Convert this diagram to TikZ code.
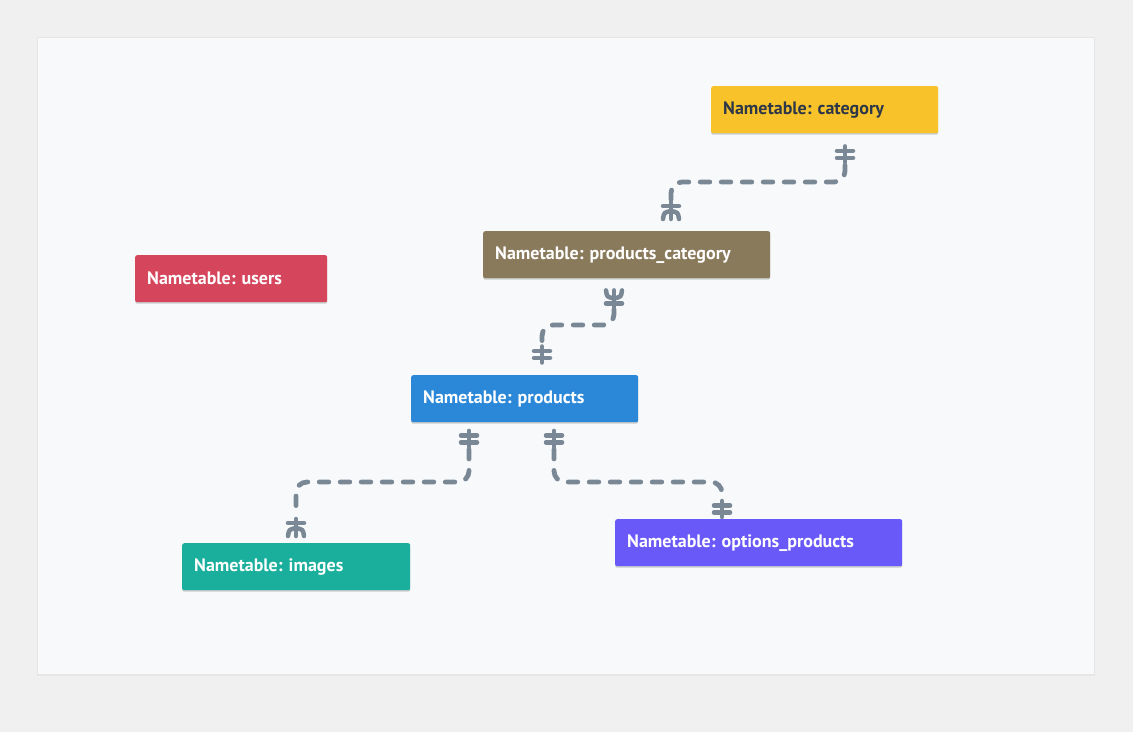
\documentclass[tikz,border=0pt]{standalone}
\usepackage{fontspec}
\setmainfont{PT Sans}
\usetikzlibrary{calc,shadows}
\definecolor{outerbg}{HTML}{F0F0F0}
\definecolor{panelbg}{HTML}{F7F9FB}
\definecolor{linec}{HTML}{7A8896}
\definecolor{ccat}{HTML}{F8C32A}
\definecolor{cpc}{HTML}{8A7A5C}
\definecolor{cusers}{HTML}{D5465D}
\definecolor{cprod}{HTML}{2B88D8}
\definecolor{cimg}{HTML}{1AAF9C}
\definecolor{copt}{HTML}{6959F8}
\definecolor{darktext}{HTML}{2D3748}
\tikzset{
  tbl/.style={rectangle, rounded corners=2pt, anchor=north west, minimum height=47pt,
    inner xsep=12pt, inner ysep=0pt, align=left, text=white,
    font=\fontsize{18}{21}\selectfont\bfseries\frenchspacing,
    drop shadow={shadow xshift=0pt, shadow yshift=-1.5pt, opacity=0.18, fill=black}},
  rel/.style={draw=linec, line width=4.8pt, line cap=round, dash pattern=on 9.5pt off 11.5pt, rounded corners=11pt},
  mk/.style={draw=linec, line width=4.5pt, line cap=round},
  twobar/.pic={
    \draw[mk] (0,-8) -- (0,8);
    \draw[mk] (-8,-3.5) -- (8,-3.5);
    \draw[mk] (-8,3.5) -- (8,3.5);
  },
  crow/.pic={
    \draw[mk] (0,-9) -- (0,8);
    \draw[mk] (-8,-5) -- (8,-5);
    \draw[mk] (0,0) .. controls (-7,1.5) .. (-8,8);
    \draw[mk] (0,0) .. controls (7,1.5) .. (8,8);
  }
}
\begin{document}
\begin{tikzpicture}[x=1pt,y=-1pt]
\useasboundingbox (0,0) rectangle (1133,732);
\fill[outerbg] (0,0) rectangle (1133,732);
\fill[black, opacity=0.04] (37,37) rectangle (1095,676);
\fill[panelbg] (38,38) rectangle (1094,674);

\node[tbl, fill=ccat, text=darktext, text width=203pt] (cat) at (711,86) {Nametable: category};
\node[tbl, fill=cpc, text width=263pt] (pc) at (483,231) {Nametable: products\_category};
\node[tbl, fill=cusers, text width=168pt] (users) at (135,255) {Nametable: users};
\node[tbl, fill=cprod, text width=203pt] (prod) at (411,375) {Nametable: products};
\node[tbl, fill=cimg, text width=204pt] (img) at (182,543) {Nametable: images};
\node[tbl, fill=copt, text width=263pt] (opt) at (615,519) {Nametable: options\_products};

% anchor points on the boxes
\coordinate (c1a) at ($(cat.south west)+(134,0)$);
\coordinate (c1b) at ($(pc.north west)+(188,0)$);
\coordinate (c2a) at ($(pc.south west)+(131,0)$);
\coordinate (c2b) at ($(prod.north west)+(131,0)$);
\coordinate (c3a) at ($(prod.south west)+(58,0)$);
\coordinate (c3b) at ($(img.north west)+(114,0)$);
\coordinate (c4a) at ($(prod.south west)+(143,0)$);
\coordinate (c4b) at ($(opt.north west)+(107,0)$);

% connectors
\path[rel] ($(c1a)+(0,32)$) |- ($(c1b)+(0,-49)$) -- ($(c1b)+(0,-31)$);
\path[rel] ($(c2a)+(0,31)$) |- ($(c2b)+(0,-50)$) -- ($(c2b)+(0,-29)$);
\path[rel] ($(c3a)+(0,27)$) |- ($(c3b)+(0,-61)$) -- ($(c3b)+(0,-26)$);
\path[rel] ($(c4a)+(0,27)$) |- ($(c4b)+(0,-37)$) -- ($(c4b)+(0,-19)$);

% markers
\pic at ($(c1a)+(0,21)$) {twobar};
\pic at ($(c1b)+(0,-20)$) {crow};
\pic[yscale=-1] at ($(c2a)+(0,20)$) {crow};
\pic at ($(c2b)+(0,-20.5)$) {twobar};
\pic at ($(c3a)+(0,16.5)$) {twobar};
\pic at ($(c4a)+(0,16.5)$) {twobar};
\pic at ($(c3b)+(0,-15)$) {crow};
\pic at ($(c4b)+(0,-10)$) {twobar};
\end{tikzpicture}
\end{document}
